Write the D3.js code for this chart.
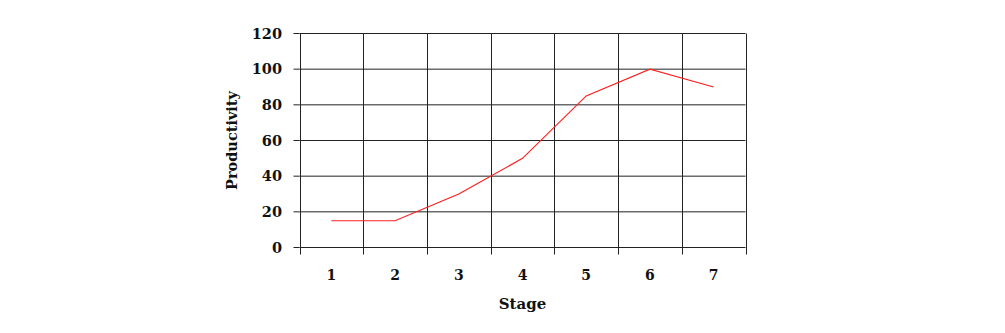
<!DOCTYPE html>
<html><head><meta charset="utf-8">
<script src="https://cdn.jsdelivr.net/npm/d3@7"></script>
<style>body{margin:0;background:#fff}svg{display:block}</style>
</head><body>
<svg id="c" width="1005" height="333"></svg>
<script>
const stages = ["1","2","3","4","5","6","7"];
const productivity = [15,15,30,50,85,100,90];
const yTicks = [0,20,40,60,80,100,120];
const xTitle = "Stage";
const yTitle = "Productivity";

const svg = d3.select("#c");
const L=299.5, R=745.5, T=33.5, B=247.5;
const x = d3.scaleBand().domain(stages).range([L,R]);
const y = d3.scaleLinear().domain([0,120]).range([B,T]);
const font = "'DejaVu Serif', serif";
const gc = "#222";

// horizontal gridlines
svg.append("g").selectAll("line").data(yTicks).join("line")
  .attr("x1",L).attr("x2",R).attr("y1",d=>y(d)).attr("y2",d=>y(d))
  .attr("stroke",gc).attr("stroke-width",1);
// vertical gridlines at band edges
const edges = stages.map(s=>x(s)).concat([R]);
svg.append("g").selectAll("line").data(edges).join("line")
  .attr("x1",d=>Math.round(d)+0.5).attr("x2",d=>Math.round(d)+0.5).attr("y1",T).attr("y2",B+7)
  .attr("stroke",gc).attr("stroke-width",1);
// y tick marks
svg.append("g").selectAll("line").data(yTicks).join("line")
  .attr("x1",L-6).attr("x2",L).attr("y1",d=>y(d)).attr("y2",d=>y(d))
  .attr("stroke",gc);
// y labels
svg.append("g").selectAll("text").data(yTicks).join("text")
  .attr("x",282).attr("y",d=>y(d)).attr("dy","0.35em").attr("text-anchor","end")
  .attr("font-family",font).attr("font-weight","bold").attr("font-size",14.5).attr("fill","#111")
  .text(d=>d);
// x labels
svg.append("g").selectAll("text").data(stages).join("text")
  .attr("x",d=>x(d)+x.bandwidth()/2).attr("y",275).attr("dy","0.35em").attr("text-anchor","middle")
  .attr("font-family",font).attr("font-weight","bold").attr("font-size",14).attr("fill","#111")
  .text(d=>d);
// titles
svg.append("text").attr("x",(L+R)/2).attr("y",304).attr("dy","0.35em").attr("text-anchor","middle")
  .attr("font-family",font).attr("font-weight","bold").attr("font-size",15).attr("fill","#111").text(xTitle);
svg.append("text").attr("transform",`translate(232,${(T+B)/2}) rotate(-90)`).attr("dy","0.35em").attr("text-anchor","middle")
  .attr("font-family",font).attr("font-weight","bold").attr("font-size",14.5).attr("fill","#111").text(yTitle);
// line
const line = d3.line().x((d,i)=>x(stages[i])+x.bandwidth()/2).y(d=>y(d));
svg.append("path").datum(productivity).attr("d",line).attr("fill","none").attr("stroke","#ff2020").attr("stroke-width",1.2);
</script>
</body></html>
